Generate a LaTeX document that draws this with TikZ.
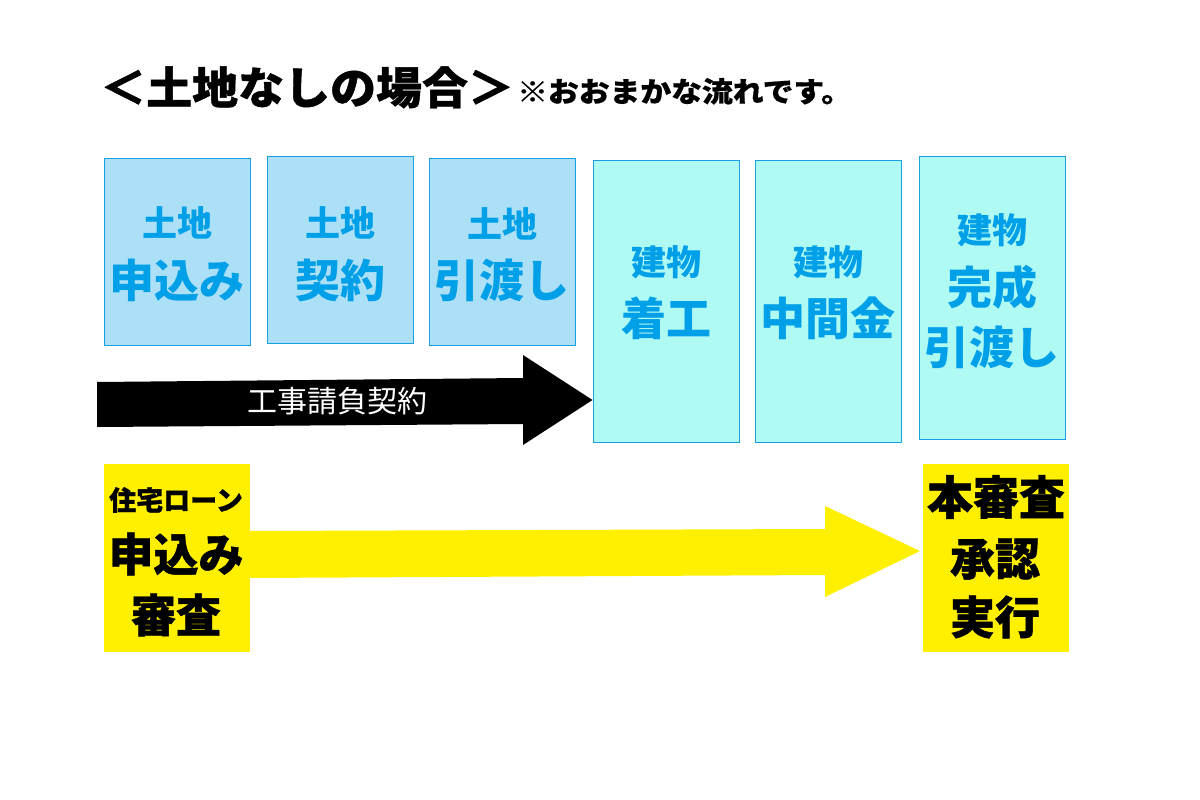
\documentclass[tikz,border=0pt]{standalone}
\usepackage{fontspec}
\newfontfamily\jp{Noto Sans CJK JP}
\newfontfamily\jpheavy{Noto Sans CJK JP}[BoldFeatures={FakeBold=1}]
\newfontfamily\jptitle{Noto Sans CJK JP}[BoldFeatures={FakeBold=1, FakeStretch=1.045}]
\newfontfamily\jpnote{Noto Sans CJK JP}[BoldFeatures={FakeBold=0.6, FakeStretch=1.1}]
\definecolor{landfill}{HTML}{ACE0F7}
\definecolor{bldfill}{HTML}{B0FAF4}
\definecolor{boxline}{HTML}{1A9FE0}
\definecolor{bluetext}{HTML}{00A0E9}
\definecolor{loanyellow}{HTML}{FFF000}
\tikzset{
  landbox/.style={draw=boxline, line width=1pt, fill=landfill, minimum width=146pt, minimum height=187pt, inner sep=0pt},
  bldbox/.style={draw=boxline, line width=1pt, fill=bldfill, minimum width=146pt, minimum height=282pt, inner sep=0pt},
  loanbox/.style={fill=loanyellow, minimum width=146pt, minimum height=188pt, inner sep=0pt},
  small/.style={inner sep=0pt, text=bluetext, font=\jp\bfseries\fontsize{35}{35}\selectfont},
  big/.style={inner sep=0pt, text=bluetext, font=\jp\bfseries\fontsize{45}{45}\selectfont},
  ysmall/.style={inner sep=0pt, text=black, font=\jpheavy\bfseries\fontsize{27}{27}\selectfont},
  ybig/.style={inner sep=0pt, text=black, font=\jpheavy\bfseries\fontsize{45}{45}\selectfont},
}
\begin{document}
\begin{tikzpicture}[x=1pt,y=-1pt]
\useasboundingbox (0,0) rectangle (1200,800);
\fill[white] (0,0) rectangle (1200,800);

% title
\node[anchor=base west, inner sep=0pt, font=\jptitle\bfseries\fontsize{44}{44}\selectfont] (title) at (100,104) {＜土地なしの場合＞};
\node[anchor=base west, inner sep=0pt, font=\jpnote\bfseries\fontsize{28}{28}\selectfont] (note) at (517,102) {※おおまかな流れです。};

% boxes
\node[landbox] (b1) at (177,251.5) {};
\node[landbox] (b2) at (340,249.5) {};
\node[landbox] (b3) at (502,251.5) {};
\node[bldbox] (b4) at (666,301) {};
\node[bldbox] (b5) at (828,301) {};
\node[bldbox, minimum height=283pt] (b6) at (992,297.5) {};

\node[small] (t1a) at (177,223) {土地};
\node[big]   (t1b) at (177,280) {申込み};
\node[small] (t2a) at (340,223) {土地};
\node[big]   (t2b) at (340,280) {契約};
\node[small] (t3a) at (502,224) {土地};
\node[big]   (t3b) at (502,280) {引渡し};
\node[small] (t4a) at (666,262) {建物};
\node[big]   (t4b) at (666,318) {着工};
\node[small] (t5a) at (828,262) {建物};
\node[big]   (t5b) at (828,318) {中間金};
\node[small] (t6a) at (992,230) {建物};
\node[big]   (t6b) at (992,287) {完成};
\node[big]   (t6c) at (992,347) {引渡し};

% black arrow
\fill[black] (97,382) -- (523,378) -- (523,355) -- (b4.west |- 0,400) -- (523,445) -- (523,424) -- (97,427) -- cycle;
\node[inner sep=0pt, text=white, font=\jp\fontsize{30}{30}\selectfont] (blabel) at (337,401) {工事請負契約};

% yellow boxes
\node[loanbox] (yl) at (176.5,557.5) {};
\node[loanbox] (yr) at (995.5,557.5) {};
\node[ysmall] (yl1) at (176,500) {住宅ローン};
\node[ybig]   (yl2) at (176,554) {申込み};
\node[ybig]   (yl3) at (176,615) {審査};
\node[ybig, font=\jpheavy\bfseries\fontsize{46}{46}\selectfont] (yr1) at (996,497) {本審査};
\node[ybig]   (yr2) at (995,559) {承認};
\node[ybig]   (yr3) at (995,617) {実行};

% yellow arrow
\fill[loanyellow] (yl.east |- 0,531) -- (825,529) -- (825,506) -- (920,551) -- (825,597) -- (825,575) -- (yl.east |- 0,578) -- cycle;
\end{tikzpicture}
\end{document}
